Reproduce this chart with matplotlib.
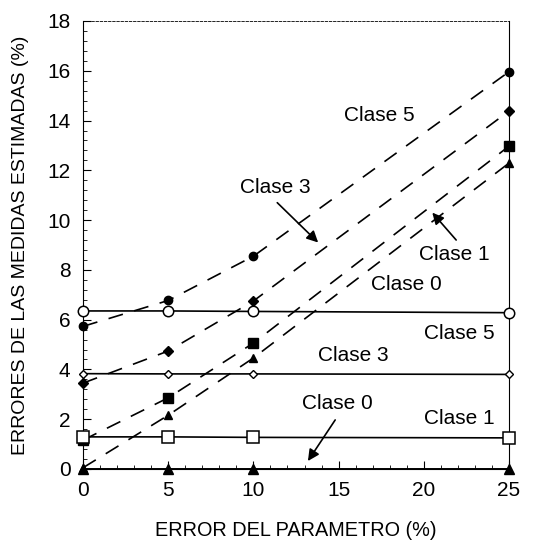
import matplotlib.pyplot as plt
from matplotlib.ticker import MultipleLocator

# Error del parametro (%)
x_vals = [0, 5, 10, 25]

# Constant (solid) series, open markers
clase5_const = [6.35, 6.35, 6.33, 6.28]
clase3_const = [3.83, 3.82, 3.82, 3.80]
clase1_const = [1.29, 1.29, 1.27, 1.25]
clase0_const = [0.0, 0.0, 0.0, 0.0]

# Growing (dashed) series, filled markers
clase5_err = [5.73, 6.77, 8.55, 15.96]
clase3_err = [3.45, 4.74, 6.75, 14.38]
clase1_err = [1.16, 2.86, 5.06, 12.97]
clase0_err = [0.05, 2.16, 4.46, 12.29]

plt.rcParams['font.family'] = ['Liberation Sans', 'DejaVu Sans']

fig = plt.figure(figsize=(5.48, 5.44), dpi=100)
ax = fig.add_axes([0.1515, 0.1379, 0.7773, 0.8235])

dash = (9, 7)
lw = 1.2

# dashed curves
ax.plot(x_vals, clase5_err, color='black', lw=lw, dashes=dash, marker='o', ms=6,
        mfc='black', mec='black', zorder=3, clip_on=False)
ax.plot(x_vals, clase3_err, color='black', lw=lw, dashes=dash, marker='D', ms=5,
        mfc='black', mec='black', zorder=3, clip_on=False)
ax.plot(x_vals, clase1_err, color='black', lw=lw, dashes=dash, marker='s', ms=7,
        mfc='black', mec='black', zorder=3, clip_on=False)
ax.plot(x_vals, clase0_err, color='black', lw=lw, dashes=dash, marker='^', ms=6,
        mfc='black', mec='black', zorder=3, clip_on=False)

# solid lines
ax.plot(x_vals, clase5_const, color='black', lw=1.2, marker='o', ms=7.5,
        mfc='white', mec='black', mew=1.1, zorder=4, clip_on=False)
ax.plot(x_vals, clase3_const, color='black', lw=1.2, marker='D', ms=4.5,
        mfc='white', mec='black', mew=1.0, zorder=4, clip_on=False)
ax.plot(x_vals, clase1_const, color='black', lw=1.2, marker='s', ms=8,
        mfc='white', mec='black', mew=1.1, zorder=4, clip_on=False)
ax.plot(x_vals, clase0_const, color='black', lw=1.4, marker='^', ms=6.5,
        mfc='black', mec='black', zorder=4, clip_on=False)

fs = 15
ax.text(17.4, 14.2, 'Clase 5', fontsize=fs, ha='center', va='center')
ax.text(11.3, 11.3, 'Clase 3', fontsize=fs, ha='center', va='center')
ax.text(21.8, 8.6, 'Clase 1', fontsize=fs, ha='center', va='center')
ax.text(18.95, 7.4, 'Clase 0', fontsize=fs, ha='center', va='center')
ax.text(22.1, 5.43, 'Clase 5', fontsize=fs, ha='center', va='center')
ax.text(15.85, 4.57, 'Clase 3', fontsize=fs, ha='center', va='center')
ax.text(14.9, 2.62, 'Clase 0', fontsize=fs, ha='center', va='center')
ax.text(22.1, 2.02, 'Clase 1', fontsize=fs, ha='center', va='center')

arrow = dict(arrowstyle='-|>', color='black', lw=1.2, mutation_scale=17,
             shrinkA=0, shrinkB=0)
ax.annotate('', xy=(13.8, 9.1), xytext=(11.4, 10.7), arrowprops=arrow)
ax.annotate('', xy=(20.5, 10.3), xytext=(21.9, 9.2), arrowprops=arrow)
ax.annotate('', xy=(13.2, 0.32), xytext=(14.8, 1.97), arrowprops=arrow)

ax.set_xlim(0, 25)
ax.set_ylim(0, 18)
ax.xaxis.set_major_locator(MultipleLocator(5))
ax.xaxis.set_minor_locator(MultipleLocator(1))
ax.yaxis.set_major_locator(MultipleLocator(2))
ax.yaxis.set_minor_locator(MultipleLocator(0.4))
ax.tick_params(which='both', direction='in', labelsize=15, pad=9)
ax.tick_params(which='major', length=6, width=0.8)
ax.tick_params(which='minor', length=3, width=0.6)
for s in ax.spines.values():
    s.set_linewidth(0.8)
ax.spines['top'].set_linestyle((0, (3, 2)))
ax.spines['top'].set_linewidth(0.6)

ax.set_xlabel('ERROR DEL PARAMETRO (%)', fontsize=14.3, labelpad=15)
ax.set_ylabel('ERRORES DE LAS MEDIDAS ESTIMADAS (%)', fontsize=14, labelpad=13)

fig.savefig('out.png', dpi=100)
